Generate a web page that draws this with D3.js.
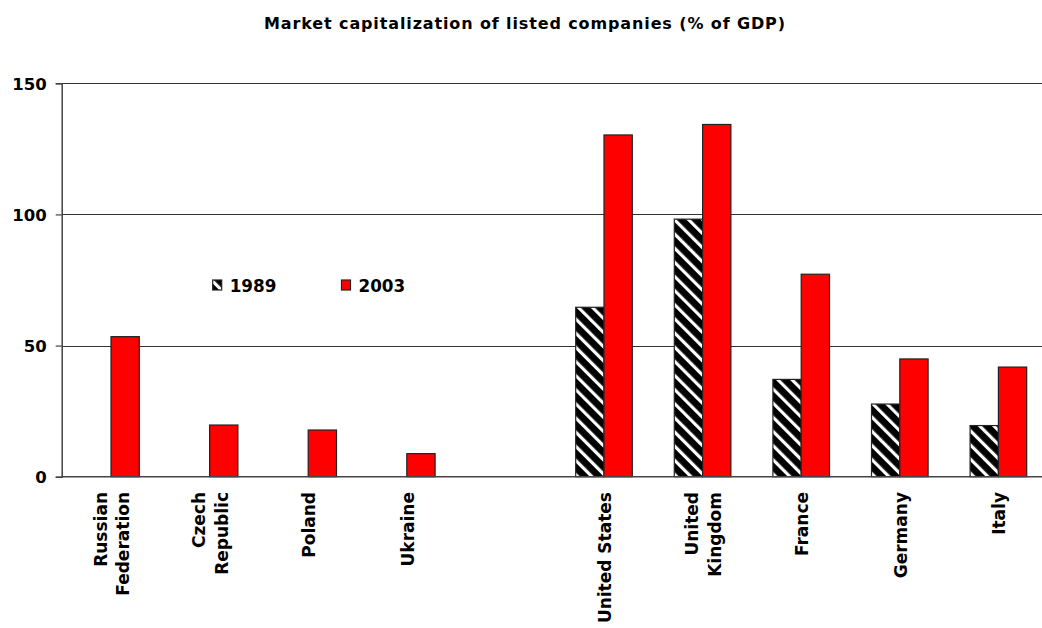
<!DOCTYPE html>
<html>
<head>
<meta charset="utf-8">
<script src="https://cdn.jsdelivr.net/npm/d3@7"></script>
<style>
  html, body { margin: 0; padding: 0; background: #fff; }
  svg { display: block; font-family: "DejaVu Sans", Verdana, sans-serif; font-weight: bold; }
</style>
</head>
<body>
<svg id="chart" width="1042" height="628"></svg>
<script>
const title = "Market capitalization of listed companies (% of GDP)";
const categories = ["Russian Federation", "Czech Republic", "Poland", "Ukraine", "gap", "United States", "United Kingdom", "France", "Germany", "Italy"];
const categoryLines = [["Russian", "Federation"], ["Czech", "Republic"], ["Poland"], ["Ukraine"], [], ["United States"], ["United", "Kingdom"], ["France"], ["Germany"], ["Italy"]];
const seriesNames = ["1989", "2003"];
const values1989 = [null, null, null, null, null, 64.6, 98.2, 37.1, 27.7, 19.5];
const values2003 = [53.4, 19.7, 17.8, 8.8, null, 130.3, 134.3, 77.2, 44.9, 41.8];
const yTicks = [0, 50, 100, 150];

(function () {
const svg = d3.select("#chart");
const defs = svg.append("defs");
const pat = defs.append("pattern")
  .attr("id", "hatch").attr("patternUnits", "userSpaceOnUse")
  .attr("width", 10).attr("height", 10)
  .attr("patternTransform", "rotate(-45)");
pat.append("rect").attr("width", 10).attr("height", 10).attr("fill", "#000");
pat.append("rect").attr("x", 0).attr("width", 3.2).attr("height", 10).attr("fill", "#fff");

const pLeft = 61.7, pRight = 1047.7, pTop = 83.3, pBottom = 476.7;
const x = d3.scaleBand().domain(categories).range([pLeft, pRight]).padding(0);
const slot = x.bandwidth();
const barW = 28.3;
const x1 = d3.scaleBand().domain(seriesNames).range([slot / 2 - barW, slot / 2 + barW]).padding(0);
const y = d3.scaleLinear().domain([0, 150]).range([pBottom, pTop]);

// title
svg.append("text").attr("x", 524.5).attr("y", 28.5).attr("text-anchor", "middle")
  .attr("font-size", 16).attr("fill", "#000")
  .attr("textLength", 521).attr("lengthAdjust", "spacing").text(title);

// gridlines
svg.append("g").selectAll("line").data(yTicks.filter(d => d > 0)).join("line")
  .attr("x1", pLeft).attr("x2", 1042)
  .attr("y1", d => Math.round(y(d)) + 0.5).attr("y2", d => Math.round(y(d)) + 0.5)
  .attr("stroke", "#333").attr("stroke-width", 1);

// bars
const data = [];
categories.forEach((c, i) => {
  if (values1989[i] != null) data.push({ c, s: "1989", v: values1989[i] });
  if (values2003[i] != null) data.push({ c, s: "2003", v: values2003[i] });
});
svg.append("g").selectAll("rect").data(data).join("rect")
  .attr("x", d => x(d.c) + x1(d.s))
  .attr("y", d => y(d.v))
  .attr("width", x1.bandwidth())
  .attr("height", d => pBottom - y(d.v))
  .attr("fill", d => d.s === "1989" ? "url(#hatch)" : "#ff0000")
  .attr("stroke", "#222").attr("stroke-width", 1.2);

// axes
const yAxis = d3.axisLeft(y).tickValues(yTicks).tickSize(6).tickPadding(9);
const gy = svg.append("g").attr("transform", `translate(${pLeft},0)`).call(yAxis);
gy.select(".domain").attr("stroke", "#444").attr("stroke-width", 1.5);
gy.selectAll(".tick line").attr("stroke", "#444").attr("stroke-width", 1.2);
gy.selectAll(".tick text").attr("font-size", 16.5).attr("font-family", "DejaVu Sans, sans-serif")
  .attr("font-weight", "bold").attr("fill", "#000").attr("dy", "0.36em");

svg.append("line").attr("x1", pLeft).attr("x2", 1042).attr("y1", pBottom).attr("y2", pBottom)
  .attr("stroke", "#444").attr("stroke-width", 1.5);

// category labels
const labG = svg.append("g");
categories.forEach((c, i) => {
  const lines = categoryLines[i];
  const cx = x(c) + slot / 2;
  const n = lines.length;
  lines.forEach((ln, j) => {
    const bx = cx + 7 + (j - (n - 1) / 2) * 22.5;
    labG.append("text")
      .attr("transform", `translate(${bx},492) rotate(-90)`)
      .attr("text-anchor", "end").attr("font-size", 17).attr("fill", "#000").text(ln);
  });
});

// legend
const legend = [{ s: "1989", x: 212.7 }, { s: "2003", x: 341.5 }];
const lg = svg.append("g");
legend.forEach(l => {
  lg.append("rect").attr("x", l.x).attr("y", 280).attr("width", 9).attr("height", 10)
    .attr("fill", l.s === "1989" ? "url(#hatch)" : "#ff0000").attr("stroke", "#222").attr("stroke-width", 1.2);
  lg.append("text").attr("x", l.x + 17).attr("y", 291.5).attr("font-size", 16.8).attr("fill", "#000").text(l.s);
});
})();
</script>
</body>
</html>
